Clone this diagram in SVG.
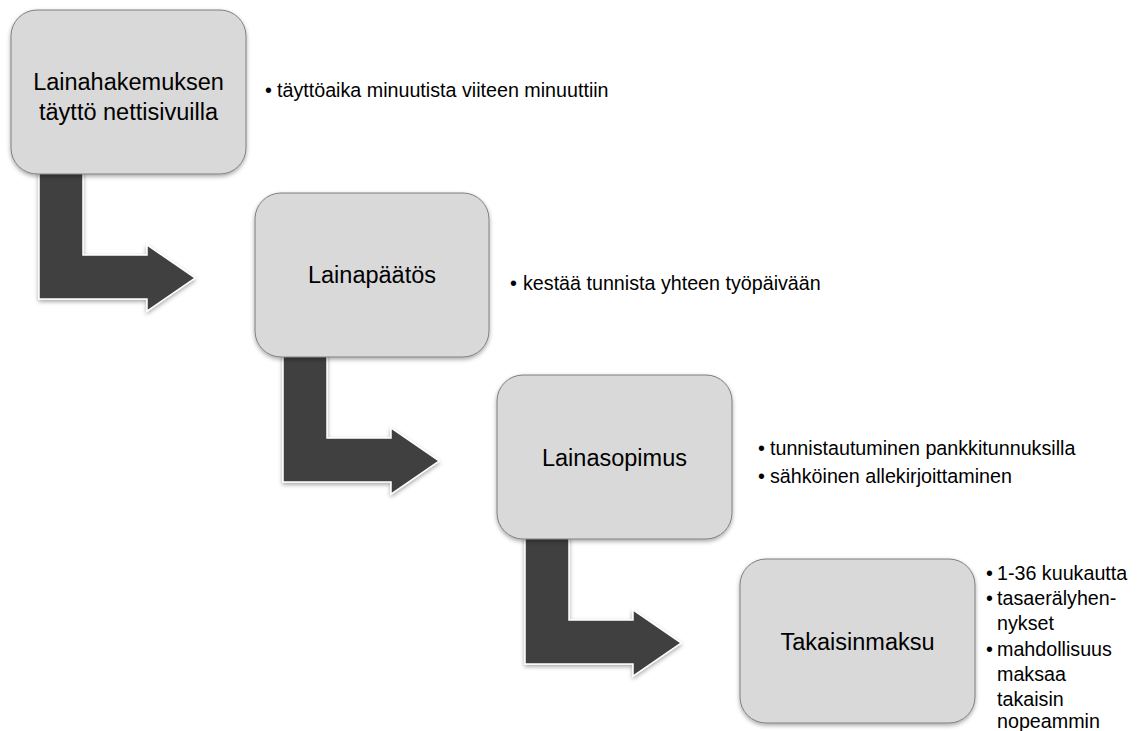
<svg xmlns="http://www.w3.org/2000/svg" width="1140" height="731" viewBox="0 0 1140 731">
<defs>
<filter id="sh" x="-20%" y="-20%" width="140%" height="150%">
<feDropShadow dx="0" dy="2" stdDeviation="2" flood-color="#000" flood-opacity="0.35"/>
</filter>
<style>
.box{fill:#d9d9d9;stroke:#7f7f7f;stroke-width:1;filter:url(#sh)}
.arr{fill:#404040;stroke:#ffffff;stroke-width:1.5;stroke-linejoin:miter;filter:url(#sh)}
.lbl{font-family:"Liberation Sans",Arial,sans-serif;font-size:23.5px;fill:#000;text-anchor:middle}
.bul{font-family:"Liberation Sans",Arial,sans-serif;font-size:19.7px;fill:#000}
</style>
</defs>
<rect width="1140" height="731" fill="#ffffff"/>
<g id="connectors">
<path class="arr" d="M39,170 L83,170 L83,255 L147,255 L147,245 L195,278 L147,311 L147,299 L39,299 Z"/>
<path class="arr" d="M283,353 L327,353 L327,438 L391,438 L391,428 L439,461 L391,494 L391,482 L283,482 Z"/>
<path class="arr" d="M525,535 L569,535 L569,620 L633,620 L633,610 L681,643 L633,676 L633,664 L525,664 Z"/>
</g>
<g id="node1">
<rect class="box" x="11" y="10" width="235" height="164" rx="26"/>
<text class="lbl" x="128.5" y="90">Lainahakemuksen</text>
<text class="lbl" x="128.5" y="120">täyttö nettisivuilla</text>
<text class="bul" x="265" y="97">•</text>
<text class="bul" x="277" y="97">täyttöaika minuutista viiteen minuuttiin</text>
</g>
<g id="node2">
<rect class="box" x="255" y="193" width="234" height="164" rx="26"/>
<text class="lbl" x="372" y="283">Lainapäätös</text>
<text class="bul" x="510" y="290">•</text>
<text class="bul" x="523" y="290">kestää tunnista yhteen työpäivään</text>
</g>
<g id="node3">
<rect class="box" x="497" y="375" width="235" height="164" rx="26"/>
<text class="lbl" x="614.5" y="466">Lainasopimus</text>
<text class="bul" x="758" y="455">•</text>
<text class="bul" x="770" y="455">tunnistautuminen pankkitunnuksilla</text>
<text class="bul" x="758" y="483">•</text>
<text class="bul" x="770" y="483">sähköinen allekirjoittaminen</text>
</g>
<g id="node4">
<rect class="box" x="740" y="559" width="235" height="164" rx="26"/>
<text class="lbl" x="857.5" y="650">Takaisinmaksu</text>
<text class="bul" x="986" y="580">•</text>
<text class="bul" x="997" y="580">1-36 kuukautta</text>
<text class="bul" x="986" y="605">•</text>
<text class="bul" x="997" y="605">tasaerälyhen-</text>
<text class="bul" x="997" y="630">nykset</text>
<text class="bul" x="986" y="656">•</text>
<text class="bul" x="997" y="656">mahdollisuus</text>
<text class="bul" x="997" y="681">maksaa</text>
<text class="bul" x="997" y="706">takaisin</text>
<text class="bul" x="997" y="728">nopeammin</text>
</g>
</svg>
